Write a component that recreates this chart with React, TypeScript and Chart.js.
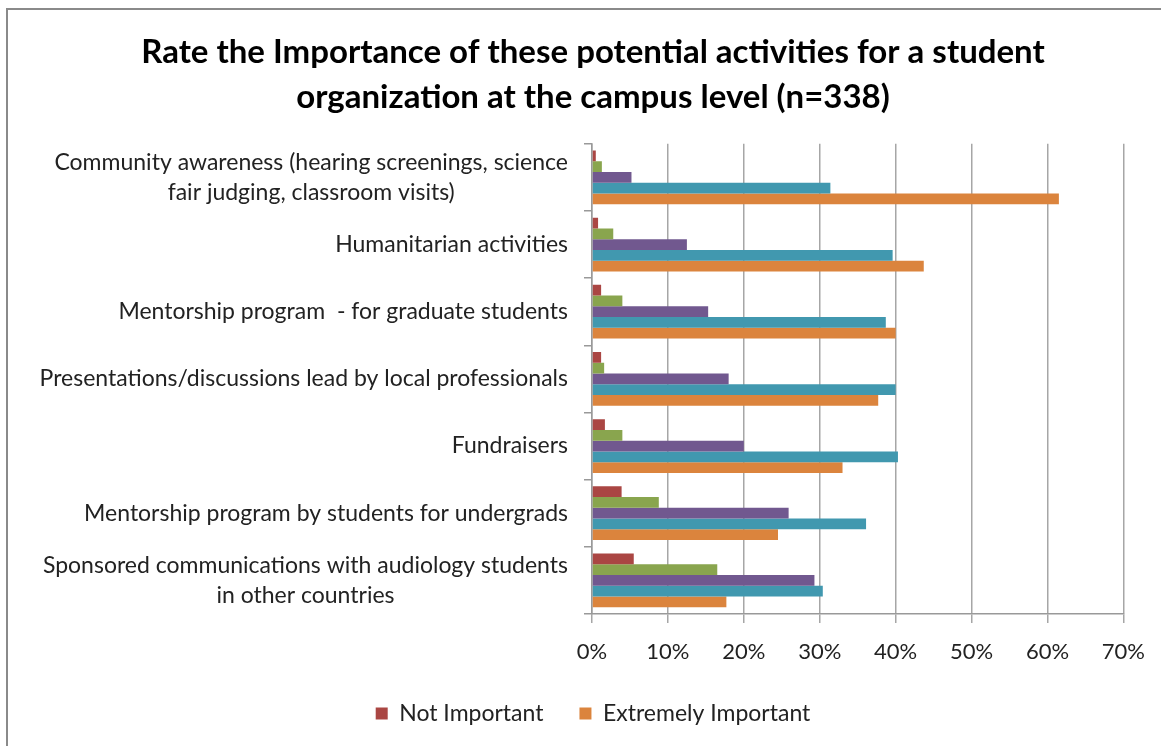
import React, { useEffect, useRef } from "react";
import { Chart, registerables } from "chart.js";

Chart.register(...registerables);

const categories: (string | string[])[] = [
  ["Community awareness (hearing screenings, science", "fair judging, classroom visits)"],
  "Humanitarian activities",
  "Mentorship program  - for graduate students",
  "Presentations/discussions lead by local professionals",
  "Fundraisers",
  "Mentorship program by students for undergrads",
  ["Sponsored communications with audiology students", "in other countries"],
];

const seriesNames = [
  "Not Important",
  "Slightly Important",
  "Moderately Important",
  "Very Important",
  "Extremely Important",
];

const notImportant = [0.5, 0.8, 1.2, 1.2, 1.7, 3.9, 5.5];
const slightlyImportant = [1.3, 2.8, 4.0, 1.6, 4.0, 8.8, 16.5];
const moderatelyImportant = [5.2, 12.5, 15.3, 18.0, 20.0, 25.9, 29.3];
const veryImportant = [31.4, 39.6, 38.7, 40.0, 40.3, 36.1, 30.4];
const extremelyImportant = [61.5, 43.7, 40.0, 37.7, 33.0, 24.5, 17.7];

const seriesValues = [notImportant, slightlyImportant, moderatelyImportant, veryImportant, extremelyImportant];
const seriesColors = ["#AA4643", "#89A54E", "#71588F", "#4198AF", "#DB843D"];
const legendShown = ["Not Important", "Extremely Important"];

const xTickValues = [0, 10, 20, 30, 40, 50, 60, 70];

const FONT = "Lato, 'Open Sans', sans-serif";

const yLabelPlugin = {
  id: "yLabelPlugin",
  afterDraw(chart: any) {
    const scale = chart.scales.y;
    const ctx = chart.ctx;
    ctx.save();
    ctx.font = `23px ${FONT}`;
    ctx.fillStyle = "#222";
    ctx.textBaseline = "middle";
    ctx.textAlign = "center";
    const right = scale.right - 24;
    const lh = 30;
    categories.forEach((lab, i) => {
      const lines = Array.isArray(lab) ? lab : [lab];
      const w = Math.max(...lines.map((l) => ctx.measureText(l).width));
      const cx = right - w / 2;
      const y = scale.getPixelForTick(i);
      lines.forEach((l, j) => {
        ctx.fillText(l, cx, y + (j - (lines.length - 1) / 2) * lh);
      });
    });
    ctx.restore();
  },
};

export default function App() {
  const ref = useRef<HTMLCanvasElement>(null);
  useEffect(() => {
    if (!ref.current) return;
    const chart = new Chart(ref.current, {
      type: "bar",
      data: {
        labels: categories as any,
        datasets: seriesNames.map((name, i) => ({
          label: name,
          data: seriesValues[i],
          backgroundColor: seriesColors[i],
          borderWidth: 0,
          categoryPercentage: 0.8,
          barPercentage: 1.0,
        })),
      },
      options: {
        animation: false,
        responsive: false,
        indexAxis: "y",
        layout: { padding: { left: 51, right: 26, top: 10, bottom: 11 } },
        plugins: {
          title: {
            display: true,
            text: [
              "Rate the Importance of these potential activities for a student",
              "organization at the campus level (n=338)",
            ],
            color: "#000",
            font: { family: FONT, size: 33, weight: "bold", lineHeight: 1.36 },
            padding: { top: 20, bottom: 24 },
          },
          legend: {
            position: "bottom",
            labels: {
              filter: (item: any) => legendShown.includes(item.text),
              boxWidth: 12,
              boxHeight: 12,
              color: "#222",
              padding: 36,
              font: { family: FONT, size: 23 },
            },
          },
          tooltip: { enabled: false },
        },
        scales: {
          x: {
            min: 0,
            max: 70,
            afterBuildTicks: (scale: any) => {
              scale.ticks = xTickValues.map((v) => ({ value: v }));
            },
            afterFit: (scale: any) => {
              scale.height = 52;
            },
            ticks: {
              callback: (v: any) => `${v}%`,
              color: "#222",
              padding: 16,
              font: { family: FONT, size: 22 },
            },
            grid: { color: "#A6A6A6", lineWidth: 1.5, tickLength: 9, drawTicks: true },
            border: { color: "#999999", width: 1.5 },
          },
          y: {
            afterFit: (scale: any) => {
              scale.width = 541;
            },
            ticks: { display: false },
            grid: { drawOnChartArea: false, drawTicks: true, tickLength: 8, offset: true, color: "#999999", lineWidth: 1.5 },
            border: { color: "#999999", width: 1.5 },
          },
        },
      },
      plugins: [yLabelPlugin],
    } as any);
    return () => chart.destroy();
  }, []);
  return (
    <div style={{ position: "fixed", left: 0, top: 0, width: 1161, height: 746, background: "#fff" }}>
      <div
        style={{
          position: "absolute",
          left: 6,
          top: 8,
          width: 1200,
          height: 800,
          borderLeft: "2px solid #8a8a8a",
          borderTop: "2px solid #8a8a8a",
        }}
      />
      <canvas ref={ref} width={1161} height={746} style={{ position: "absolute", left: 0, top: 0 }} />
    </div>
  );
}
